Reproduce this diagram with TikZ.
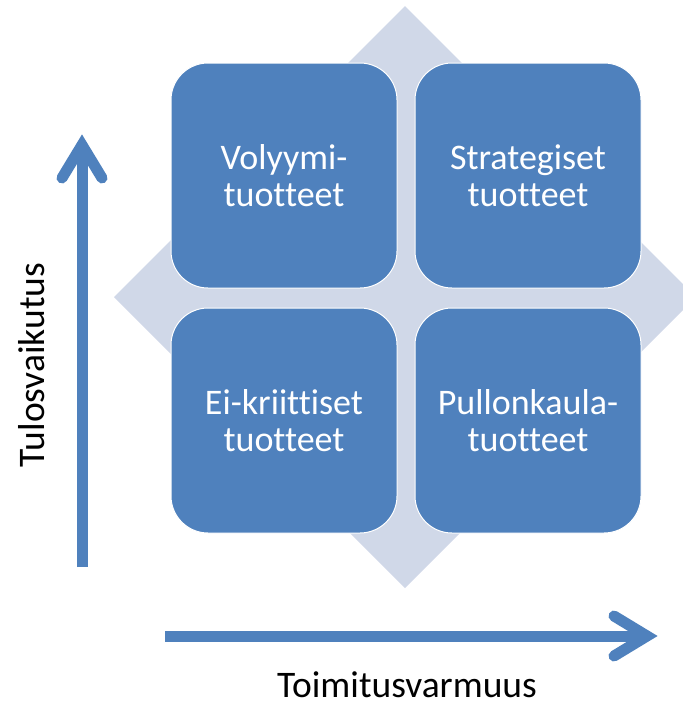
\documentclass[tikz,border=0pt]{standalone}
\usepackage{fontspec}
\setmainfont{Carlito}[Ligatures=NoCommon, RawFeature={-liga;-clig;-calt;-dlig}]
\definecolor{accent}{HTML}{4F81BD}
\definecolor{diamondfill}{HTML}{D0D8E8}
\begin{document}
\begin{tikzpicture}[x=1pt,y=-1pt,
  quad/.style={draw=white, line width=1pt, fill=accent, rounded corners=37pt,
    minimum width=226pt, minimum height=225pt, inner sep=0pt,
    text=white, align=center, font=\fontsize{36}{37}\selectfont},
  axis/.style={draw=accent, line width=11pt},
  barb/.style={draw=accent, line width=11pt, line cap=round, line join=miter},
  axislabel/.style={inner sep=0pt, font=\fontsize{37.5}{40}\selectfont}]
  \clip (0,0) rectangle (683,705);
  % background diamond
  \fill[diamondfill] (405,6) -- (696,297) -- (405,588) -- (114,297) -- cycle;
  % the four quadrants
  \node[quad] (vol) at (284,175.5) {Volyymi-\\tuotteet};
  \node[quad] (str) at (528,175.5) {Strategiset\\tuotteet};
  \node[quad] (eik) at (284,420.5) {Ei-kriittiset\\tuotteet};
  \node[quad] (pul) at (528,420.5) {Pullonkaula-\\tuotteet};
  % vertical axis
  \coordinate (vtail) at (82,567);
  \coordinate (vtip) at (82,145);
  \coordinate (vl) at (62,178);
  \coordinate (vr) at (102,178);
  \draw[axis] (vtail) -- (vtip);
  \draw[barb] (vl) -- (vtip) -- (vr);
  % horizontal axis
  \coordinate (htail) at (165,636);
  \coordinate (htip) at (647,636);
  \coordinate (hu) at (614,616);
  \coordinate (hd) at (614,656);
  \draw[axis] (htail) -- (htip);
  \draw[barb] (hu) -- (htip) -- (hd);
  % axis labels
  \node[axislabel, rotate=90, anchor=base] (ylab) at (45,365) {Tulosvaikutus};
  \node[axislabel, anchor=base] (xlab) at (407,697) {Toimitusvarmuus};
\end{tikzpicture}
\end{document}
